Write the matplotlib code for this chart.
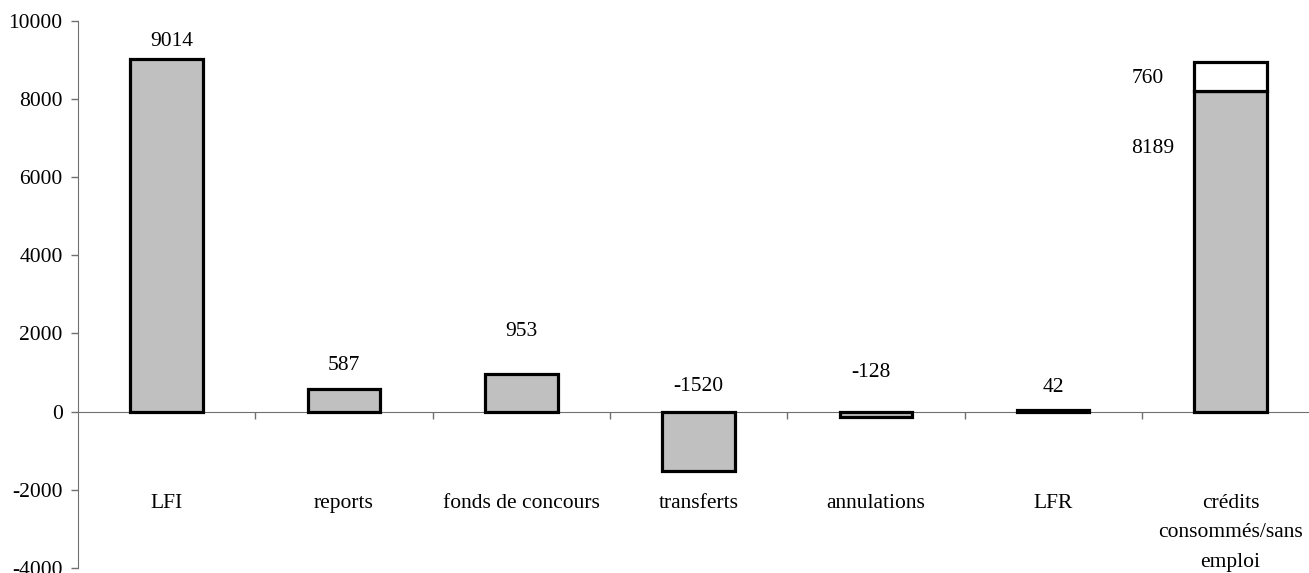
import matplotlib
matplotlib.use("Agg")
import matplotlib.pyplot as plt
from matplotlib.ticker import FixedLocator

plt.rcParams['font.family'] = ['Liberation Serif', 'DejaVu Serif']
plt.rcParams['axes.unicode_minus'] = False

# Budget execution steps
categories = ["LFI", "reports", "fonds de concours", "transferts",
              "annulations", "LFR", "crédits\nconsommés/sans\nemploi"]
values = [9014, 587, 953, -1520, -128, 42, 8189]
unused = [0, 0, 0, 0, 0, 0, 760]
value_labels = ["9014", "587", "953", "-1520", "-128", "42", "8189"]
# label anchor (x offset from bar centre, y in data units)
label_dx = [0.03, 0.0, 0.0, 0.0, -0.03, 0.0, -0.56]
label_y = [9463, 1169, 2046, 639, 990, 624, 6737]
unused_label_y = 8527

FS = 15.5

fig = plt.figure(figsize=(13.09, 5.73), dpi=100)
W, H = 1309, 573
x0, x1 = 78, 78 + 7 * 177.3
y_top, y_bot = 20.7, 568
ax = fig.add_axes([x0 / W, (H - y_bot) / H, (x1 - x0) / W, (y_bot - y_top) / H])

xs = list(range(len(categories)))
ax.bar(xs, values, width=0.41, color="#C0C0C0", edgecolor="black", linewidth=2.3, zorder=3)
ax.bar(xs[-1:], unused[-1:], bottom=values[-1:], width=0.41, color="white",
       edgecolor="black", linewidth=2.3, zorder=3)

for i, (lab, dx, ly) in enumerate(zip(value_labels, label_dx, label_y)):
    ha = "left" if i == len(categories) - 1 else "center"
    ax.text(xs[i] + dx, ly, lab, ha=ha, va="center", fontsize=FS)
ax.text(xs[-1] - 0.56, unused_label_y, str(unused[-1]), ha="left", va="center", fontsize=FS)

ax.set_xlim(-0.5, len(categories) - 0.5)
ax.set_ylim(-4000, 10000)
ax.set_yticks(range(-4000, 10001, 2000))
ax.tick_params(axis="y", direction="out", length=5, width=1, colors="#707070",
               labelcolor="black", labelsize=FS, pad=6)

ax.spines["top"].set_visible(False)
ax.spines["right"].set_visible(False)
ax.spines["left"].set_color("#707070")
ax.spines["bottom"].set_color("#707070")
ax.spines["bottom"].set_position(("data", 0))

ax.xaxis.set_major_locator(FixedLocator([i + 0.5 for i in range(len(categories) - 1)]))
ax.xaxis.set_major_formatter(plt.NullFormatter())
ax.xaxis.set_minor_locator(FixedLocator(xs))
ax.set_xticklabels(categories, minor=True)
ax.tick_params(axis="x", which="major", direction="out", length=5, width=1, colors="#707070")
ax.tick_params(axis="x", which="minor", length=0, labelsize=FS, pad=59, labelcolor="black")
for t in ax.get_xticklabels(minor=True):
    t.set_linespacing(1.75)

fig.savefig("out.png", dpi=100)
